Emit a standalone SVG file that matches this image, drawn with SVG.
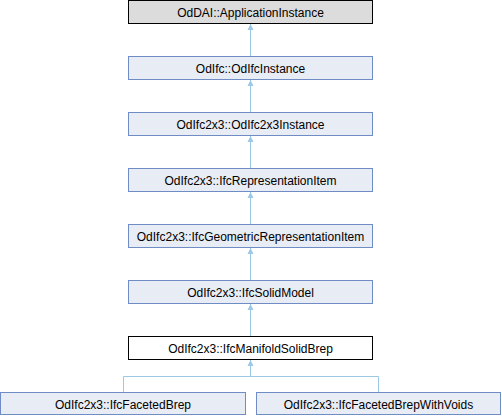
<svg xmlns="http://www.w3.org/2000/svg" width="502" height="416" viewBox="0 0 502 416">
<defs>
<style>
.n rect{fill:#e8ecf5;stroke:#6f8cc5;stroke-width:1}
.g rect{fill:#dcdcdc;stroke:#000;stroke-width:1}
.w rect{fill:#fff;stroke:#000;stroke-width:1}
text{font-family:"Liberation Sans",Arial,sans-serif;font-size:12px;fill:#000;text-anchor:middle}
.e{stroke:#9cc8e6;stroke-width:1;fill:none}
.h{fill:#9cc8e6;stroke:none}
</style>
</defs>
<rect width="502" height="416" fill="#fff"/>
<g id="edges">
<path class="e" d="M250.5,24V56.5M250.5,80V112.5M250.5,136V168.5M250.5,192V224.5M250.5,248V280.5M250.5,304V336.5M250.5,360V376.5H123.5V392.5M250.5,376.5H378.5V392.5"/>
<polygon class="h" points="250.5,24 247.5,30 253.5,30"/>
<polygon class="h" points="250.5,80 247.5,86 253.5,86"/>
<polygon class="h" points="250.5,136 247.5,142 253.5,142"/>
<polygon class="h" points="250.5,192 247.5,198 253.5,198"/>
<polygon class="h" points="250.5,248 247.5,254 253.5,254"/>
<polygon class="h" points="250.5,304 247.5,310 253.5,310"/>
<polygon class="h" points="250.5,360 247.5,366 253.5,366"/>
</g>
<g id="n1" class="g"><rect x="128.5" y="0.5" width="244" height="23"/><text x="250.5" y="16.5">OdDAI::ApplicationInstance</text></g>
<g id="n2" class="n"><rect x="128.5" y="56.5" width="244" height="23"/><text x="250.5" y="72.5">OdIfc::OdIfcInstance</text></g>
<g id="n3" class="n"><rect x="128.5" y="112.5" width="244" height="23"/><text x="250.5" y="128.5">OdIfc2x3::OdIfc2x3Instance</text></g>
<g id="n4" class="n"><rect x="128.5" y="168.5" width="244" height="23"/><text x="250.5" y="184.5">OdIfc2x3::IfcRepresentationItem</text></g>
<g id="n5" class="n"><rect x="128.5" y="224.5" width="244" height="23"/><text x="250.5" y="240.5">OdIfc2x3::IfcGeometricRepresentationItem</text></g>
<g id="n6" class="n"><rect x="128.5" y="280.5" width="244" height="23"/><text x="250.5" y="296.5">OdIfc2x3::IfcSolidModel</text></g>
<g id="n7" class="w"><rect x="128.5" y="336.5" width="244" height="23"/><text x="250.5" y="352.5">OdIfc2x3::IfcManifoldSolidBrep</text></g>
<g id="n8" class="n"><rect x="0.5" y="392.5" width="245" height="22"/><text x="123" y="408.5">OdIfc2x3::IfcFacetedBrep</text></g>
<g id="n9" class="n"><rect x="256.5" y="392.5" width="244" height="22"/><text x="378.5" y="408.5">OdIfc2x3::IfcFacetedBrepWithVoids</text></g>
</svg>
